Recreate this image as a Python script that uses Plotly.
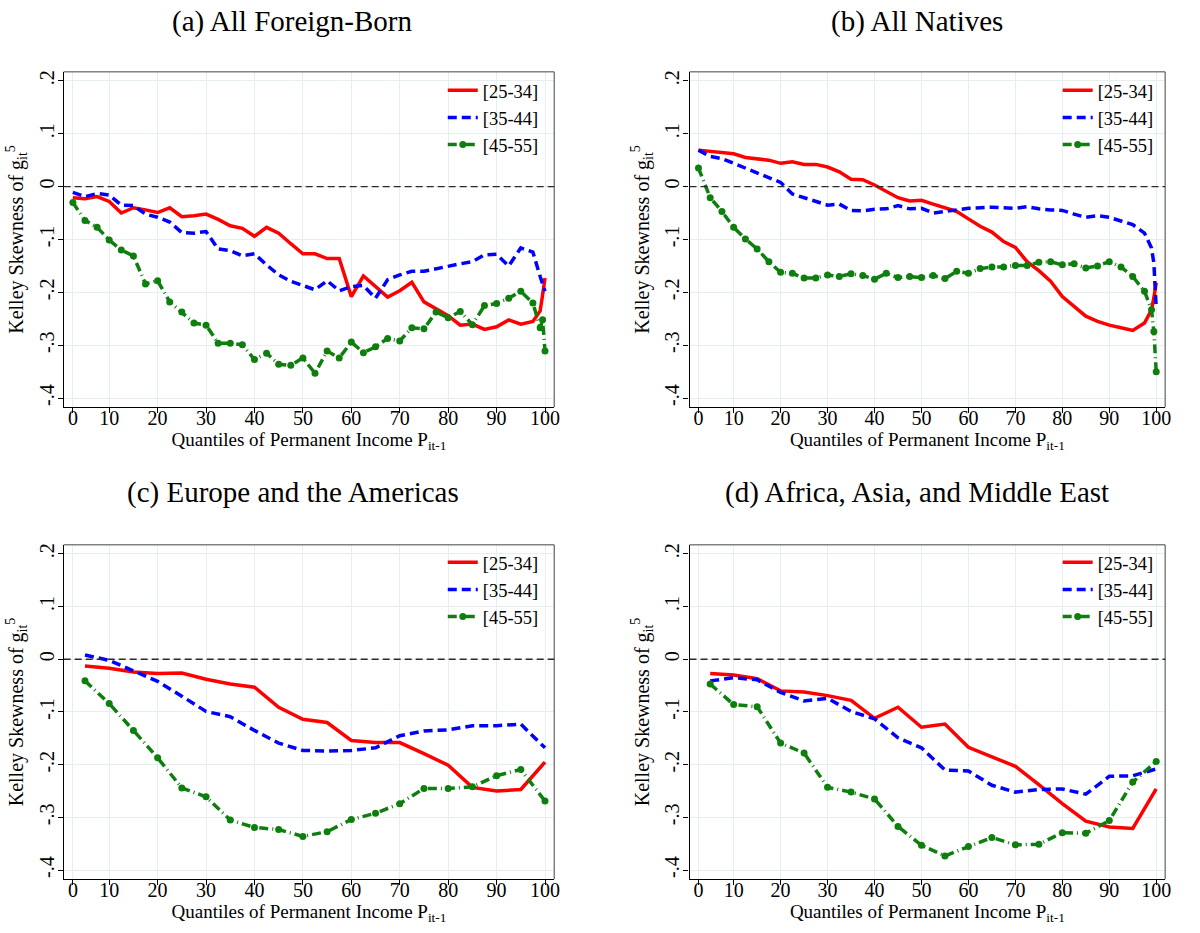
import plotly.graph_objects as go

# Quantile positions (panels a, b: 2.5-point bins plus top percentiles; panels c, d: 5-point bins)
q_fine = [2.5, 5, 7.5, 10, 12.5, 15, 17.5, 20, 22.5, 25, 27.5, 30, 32.5, 35, 37.5, 40,
          42.5, 45, 47.5, 50, 52.5, 55, 57.5, 60, 62.5, 65, 67.5, 70, 72.5, 75, 77.5, 80,
          82.5, 85, 87.5, 90, 92.5, 95, 97.5, 99, 99.5, 100]
q_coarse = [5, 10, 15, 20, 25, 30, 35, 40, 45, 50, 55, 60, 65, 70, 75, 80, 85, 90, 95, 100]

age_groups = ["[25-34]", "[35-44]", "[45-55]"]
panel_titles = ["(a) All Foreign-Born", "(b) All Natives",
                "(c) Europe and the Americas", "(d) Africa, Asia, and Middle East"]

tick_vals = [2.5, 10, 20, 30, 40, 50, 60, 70, 80, 90, 100]
tick_text = ["0", "10", "20", "30", "40", "50", "60", "70", "80", "90", "100"]
ytick_vals = [0.2, 0.1, 0, -0.1, -0.2, -0.3, -0.4]
ytick_text = [".2", ".1", "0", "-.1", "-.2", "-.3", "-.4"]

# (a) All Foreign-Born
a_25_34 = [-0.021, -0.023, -0.019, -0.028, -0.050, -0.040, -0.044, -0.049, -0.040, -0.057,
           -0.055, -0.052, -0.062, -0.074, -0.079, -0.094, -0.077, -0.088, -0.108, -0.127,
           -0.127, -0.136, -0.136, -0.208, -0.169, -0.189, -0.209, -0.197, -0.181, -0.218,
           -0.231, -0.244, -0.262, -0.260, -0.270, -0.265, -0.252, -0.260, -0.255,
           -0.235, -0.205, -0.173]
a_35_44 = [-0.011, -0.019, -0.013, -0.016, -0.035, -0.036, -0.052, -0.058, -0.067, -0.087,
           -0.088, -0.085, -0.118, -0.121, -0.131, -0.127, -0.148, -0.167, -0.179, -0.187,
           -0.195, -0.178, -0.197, -0.189, -0.187, -0.211, -0.176, -0.167, -0.160, -0.160,
           -0.155, -0.151, -0.146, -0.142, -0.129, -0.128, -0.150, -0.116, -0.124,
           -0.170, -0.185, -0.198]
a_45_55 = [-0.030, -0.064, -0.077, -0.101, -0.120, -0.131, -0.184, -0.178, -0.218, -0.237,
           -0.258, -0.262, -0.296, -0.296, -0.299, -0.327, -0.315, -0.336, -0.338, -0.324,
           -0.353, -0.311, -0.324, -0.294, -0.314, -0.303, -0.287, -0.292, -0.267, -0.269,
           -0.237, -0.248, -0.236, -0.261, -0.225, -0.221, -0.211, -0.198, -0.220,
           -0.267, -0.252, -0.311]

# (b) All Natives
b_25_34 = [0.069, 0.067, 0.064, 0.062, 0.055, 0.053, 0.050, 0.044, 0.047, 0.042,
           0.042, 0.037, 0.028, 0.014, 0.013, 0.003, -0.009, -0.021, -0.027, -0.026,
           -0.033, -0.040, -0.047, -0.061, -0.075, -0.086, -0.104, -0.115, -0.142, -0.159,
           -0.179, -0.208, -0.226, -0.245, -0.255, -0.262, -0.267, -0.272, -0.258,
           -0.233, -0.210, -0.182]
b_35_44 = [0.069, 0.057, 0.053, 0.044, 0.036, 0.026, 0.018, 0.008, -0.014, -0.021,
           -0.027, -0.035, -0.033, -0.045, -0.046, -0.043, -0.042, -0.036, -0.042, -0.041,
           -0.050, -0.047, -0.044, -0.041, -0.040, -0.039, -0.040, -0.041, -0.038, -0.042,
           -0.044, -0.045, -0.052, -0.058, -0.055, -0.058, -0.065, -0.072, -0.088,
           -0.116, -0.145, -0.230]
b_45_55 = [0.035, -0.021, -0.047, -0.077, -0.099, -0.118, -0.142, -0.162, -0.164, -0.173,
           -0.173, -0.167, -0.170, -0.165, -0.168, -0.175, -0.164, -0.172, -0.170, -0.172,
           -0.168, -0.174, -0.160, -0.164, -0.155, -0.152, -0.152, -0.149, -0.149, -0.143,
           -0.142, -0.148, -0.146, -0.154, -0.150, -0.142, -0.152, -0.170, -0.198,
           -0.233, -0.274, -0.350]

# (c) Europe and the Americas
c_25_34 = [-0.013, -0.017, -0.024, -0.027, -0.026, -0.038, -0.047, -0.053, -0.091, -0.114,
           -0.120, -0.154, -0.158, -0.158, -0.179, -0.201, -0.243, -0.250, -0.247, -0.195]
c_35_44 = [0.008, -0.002, -0.022, -0.042, -0.070, -0.099, -0.109, -0.135, -0.159, -0.173,
           -0.174, -0.173, -0.168, -0.145, -0.136, -0.134, -0.126, -0.126, -0.123, -0.168]
c_45_55 = [-0.041, -0.084, -0.135, -0.187, -0.244, -0.261, -0.305, -0.319, -0.323, -0.336,
           -0.327, -0.304, -0.292, -0.274, -0.245, -0.245, -0.242, -0.221, -0.209, -0.269]

# (d) Africa, Asia, and Middle East
d_25_34 = [-0.027, -0.030, -0.037, -0.060, -0.062, -0.069, -0.078, -0.112, -0.091, -0.129,
           -0.123, -0.167, -0.185, -0.203, -0.238, -0.274, -0.307, -0.318, -0.321, -0.246]
d_35_44 = [-0.041, -0.035, -0.039, -0.063, -0.079, -0.074, -0.099, -0.113, -0.149, -0.168,
           -0.210, -0.212, -0.239, -0.252, -0.247, -0.246, -0.256, -0.222, -0.221, -0.208]
d_45_55 = [-0.047, -0.086, -0.090, -0.159, -0.178, -0.243, -0.252, -0.265, -0.317, -0.353,
           -0.373, -0.355, -0.338, -0.352, -0.351, -0.329, -0.330, -0.306, -0.233, -0.194]

panels = [
    (q_fine, [a_25_34, a_35_44, a_45_55]),
    (q_fine, [b_25_34, b_35_44, b_45_55]),
    (q_coarse, [c_25_34, c_35_44, c_45_55]),
    (q_coarse, [d_25_34, d_35_44, d_45_55]),
]

W, H = 1200, 933
FONT = "'Liberation Serif', 'Times New Roman', 'DejaVu Serif', serif"
RED, BLUE, GREEN = "#ff0000", "#0000ff", "#0e7f0e"
GRID = "#e6eff0"

# plot-area boxes in pixels: (left, right, top, bottom)
boxes = [(64, 557, 70, 406), (693, 1171, 70, 406),
         (64, 557, 544, 879), (693, 1171, 544, 879)]
legend_pos = [(445, 70), (1063, 70), (445, 543), (1063, 543)]
title_pos = [(294, 20), (922, 20), (294, 492), (922, 492)]

styles = [
    dict(mode="lines", line=dict(color=RED, width=3.5)),
    dict(mode="lines", line=dict(color=BLUE, width=3.5, dash="9px,5px")),
    dict(mode="lines+markers", line=dict(color=GREEN, width=3.5, dash="9px,4px,1px,4px"),
         marker=dict(color=GREEN, size=7, symbol="circle")),
]

fig = go.Figure()
layout = dict(
    width=W, height=H, margin=dict(l=0, r=0, t=0, b=0),
    paper_bgcolor="white", plot_bgcolor="white",
    font=dict(family=FONT, color="black", size=20),
    shapes=[], annotations=[],
)

for i, ((xs, series), box) in enumerate(zip(panels, boxes)):
    n = "" if i == 0 else str(i + 1)
    xa, ya = "x" + n, "y" + n
    lg = "legend" + n
    for name, ys, st in zip(age_groups, series, styles):
        fig.add_trace(go.Scatter(x=xs, y=ys, name=name, xaxis=xa, yaxis=ya,
                                 legend=lg, showlegend=True, **st))
    l, r, t, b = box
    layout["xaxis" + n] = dict(
        domain=[l / W, r / W], anchor=ya, range=[0.6, 101.9],
        tickvals=tick_vals, ticktext=tick_text, ticks="outside", ticklen=5,
        tickcolor="black", showline=True, linecolor="black", linewidth=1.3,
        showgrid=True, gridcolor=GRID, gridwidth=1, zeroline=False,
        tickfont=dict(family=FONT, size=20), ticklabelstandoff=-12,
        title=dict(text="Quantiles of Permanent Income P<sub>it-1</sub>",
                   font=dict(family=FONT, size=19), standoff=0),
    )
    layout["yaxis" + n] = dict(
        domain=[1 - b / H, 1 - t / H], anchor=xa, range=[-0.417, 0.217],
        tickvals=ytick_vals, ticktext=ytick_text, tickangle=-90,
        ticks="outside", ticklen=5, tickcolor="black",
        showline=True, linecolor="black", linewidth=1.3,
        showgrid=True, gridcolor=GRID, gridwidth=1, zeroline=False,
        tickfont=dict(family=FONT, size=20), ticklabelstandoff=-4,
        title=dict(text="Kelley Skewness of g<sub>it</sub><sup>5</sup>",
                   font=dict(family=FONT, size=20), standoff=6),
    )
    layout["shapes"] += [
        # top and right edges of the plot region
        dict(type="line", xref=xa + " domain", yref=ya + " domain",
             x0=0, x1=1, y0=1, y1=1, line=dict(color="#444", width=1)),
        dict(type="line", xref=xa + " domain", yref=ya + " domain",
             x0=1, x1=1, y0=0, y1=1, line=dict(color="#444", width=1)),
        # reference line at zero skewness
        dict(type="line", xref=xa + " domain", yref=ya, x0=0, x1=1, y0=0, y1=0,
             line=dict(color="#2a2a2a", width=1.3, dash="7px,4px")),
    ]
    tx, ty = title_pos[i]
    layout["annotations"].append(dict(
        text=panel_titles[i], xref="paper", yref="paper",
        x=tx / W, y=1 - ty / H,
        xanchor="center", yanchor="middle", showarrow=False,
        font=dict(family=FONT, size=29, color="black"),
    ))
    lx, ly = legend_pos[i]
    layout[lg] = dict(
        x=lx / W, y=1 - ly / H, xanchor="left", yanchor="top",
        bgcolor="rgba(0,0,0,0)", borderwidth=0, itemwidth=30,
        font=dict(family=FONT, size=18.5, color="black"), tracegroupgap=0,
    )

fig.update_layout(**layout)
fig.write_html("out.html")
